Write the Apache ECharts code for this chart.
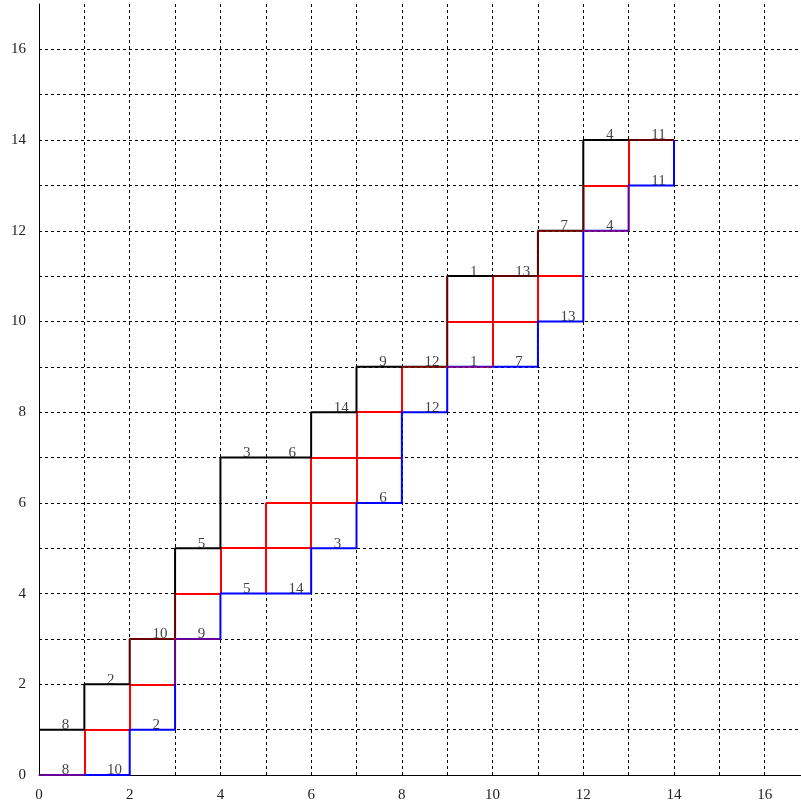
<!DOCTYPE html>
<html>
<head>
<meta charset="utf-8">
<script src="https://cdn.jsdelivr.net/npm/echarts@6/dist/echarts.min.js"></script>
<style>
  html, body { margin: 0; padding: 0; background: #fff; }
  #chart { width: 801px; height: 805px; }
</style>
</head>
<body>
<div id="chart"></div>
<script>
// upper (black) and lower (blue) lattice paths
const blackPath = [[0,1],[1,1],[1,2],[2,2],[2,3],[3,3],[3,5],[4,5],[4,7],[6,7],[6,8],[7,8],[7,9],[9,9],[9,11],[11,11],[11,12],[12,12],[12,14],[14,14]];
const bluePath = [[0,0],[2,0],[2,1],[3,1],[3,3],[4,3],[4,4],[6,4],[6,5],[7,5],[7,6],[8,6],[8,8],[9,8],[9,9],[11,9],[11,10],[12,10],[12,12],[13,12],[13,13],[14,13],[14,14]];

// red edges inside the strip
const redInner = [
  [1,0,1,1],[1,1,2,1],[2,1,2,2],[2,2,3,2],
  [3,4,4,4],[4,4,4,5],[4,5,6,5],[5,4,5,6],[5,6,7,6],[6,5,6,7],[6,7,8,7],[7,6,7,8],[7,8,8,8],[8,8,8,9],
  [10,9,10,11],[9,10,11,10],[11,10,11,11],[11,11,12,11],[12,13,13,13],[13,13,13,14]
];
// red edges lying under the black / blue paths
const redOnBorder = [
  [0,0,1,0],[2,2,2,3],[2,3,3,3],[3,2,3,3],[3,3,4,3],[3,3,3,4],
  [8,9,9,9],[9,9,10,9],[9,9,9,11],[10,11,11,11],[11,11,11,12],[11,12,12,12],
  [12,12,13,12],[12,12,12,13],[13,12,13,13],[13,14,14,14]
];

// numbers written on horizontal unit edges: [left x, y, text]
const edgeLabels = [
  [0,1,'8'],[0,0,'8'],[1,0,'10'],[1,2,'2'],[2,1,'2'],[2,3,'10'],[3,3,'9'],
  [3,5,'5'],[4,4,'5'],[5,4,'14'],[4,7,'3'],[5,7,'6'],[6,5,'3'],[6,8,'14'],
  [7,6,'6'],[7,9,'9'],[8,9,'12'],[8,8,'12'],[9,11,'1'],[10,11,'13'],[9,9,'1'],
  [10,9,'7'],[11,10,'13'],[11,12,'7'],[12,14,'4'],[13,14,'11'],[12,12,'4'],[13,13,'11']
];

const xMax = 16.8;   // the picture is cut off just before 17 on the right
const yMax = 17;
const serif = 'Liberation Serif';

function segs(list) {
  return list.map(s => ({ coords: [[s[0], s[1]], [s[2], s[3]]] }));
}

const chart = echarts.init(document.getElementById('chart'));

function makeAxis(max) {
  return {
    type: 'value',
    min: 0,
    max: max,
    interval: 1,
    axisLine: { show: true, onZero: false, lineStyle: { color: '#000', width: 1 } },
    axisTick: { show: false },
    axisLabel: {
      color: '#222',
      fontFamily: serif,
      fontSize: 15,
      margin: 13,
      showMaxLabel: false,
      formatter: v => (v % 2 === 0 ? String(v) : '')
    },
    splitLine: {
      show: true,
      showMaxLine: false,
      lineStyle: { color: '#000', width: 1, type: [3, 3] }
    }
  };
}

const option = {
  animation: false,
  backgroundColor: '#fff',
  grid: { left: 39, right: 0, top: 4, bottom: 30 },
  xAxis: makeAxis(xMax),
  yAxis: makeAxis(yMax),
  series: [
    {
      type: 'lines',
      coordinateSystem: 'cartesian2d',
      data: segs(redInner),
      lineStyle: { color: '#ff0000', width: 2, opacity: 1 },
      z: 2
    },
    {
      type: 'line',
      data: blackPath,
      showSymbol: false,
      symbol: 'none',
      lineStyle: { color: '#000', width: 2 },
      z: 3
    },
    {
      type: 'line',
      data: bluePath,
      showSymbol: false,
      symbol: 'none',
      lineStyle: { color: '#0000ff', width: 2 },
      z: 3
    },
    {
      type: 'lines',
      coordinateSystem: 'cartesian2d',
      data: segs(redOnBorder),
      lineStyle: { color: '#ff0000', width: 2, opacity: 0.4 },
      z: 4
    },
    {
      type: 'scatter',
      symbolSize: 0,
      data: edgeLabels.map(d => [d[0] + 0.5, d[1], d[2]]),
      label: {
        show: true,
        position: 'inside',
        align: 'left',
        verticalAlign: 'bottom',
        offset: [0, 3],
        color: '#111',
        fontFamily: serif,
        fontSize: 15,
        formatter: p => p.value[2]
      },
      z: 5
    }
  ]
};

chart.setOption(option);
</script>
</body>
</html>
